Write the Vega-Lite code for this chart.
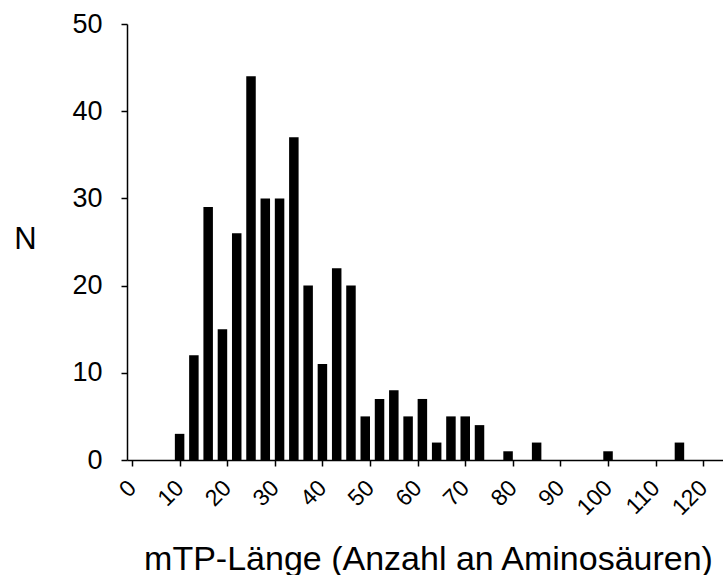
{
  "$schema": "https://vega.github.io/schema/vega-lite/v6.json",
  "autosize": {"type": "none"},
  "width": 596,
  "height": 436,
  "padding": {"left": 127, "top": 24, "right": 0, "bottom": 115},
  "background": "white",
  "config": {
    "view": {"stroke": null},
    "font": "Liberation Sans",
    "axis": {"grid": false, "domainColor": "#000", "tickColor": "#000", "labelColor": "#000", "titleColor": "#000", "labelFont": "Liberation Sans", "titleFont": "Liberation Sans", "titleFontWeight": "normal", "domainWidth": 1.5, "tickWidth": 1.5}
  },
  "data": {
    "values": [
      {"len": 10, "n": 3}, {"len": 13, "n": 12}, {"len": 16, "n": 29}, {"len": 19, "n": 15},
      {"len": 22, "n": 26}, {"len": 25, "n": 44}, {"len": 28, "n": 30}, {"len": 31, "n": 30},
      {"len": 34, "n": 37}, {"len": 37, "n": 20}, {"len": 40, "n": 11}, {"len": 43, "n": 22},
      {"len": 46, "n": 20}, {"len": 49, "n": 5}, {"len": 52, "n": 7}, {"len": 55, "n": 8},
      {"len": 58, "n": 5}, {"len": 61, "n": 7}, {"len": 64, "n": 2}, {"len": 67, "n": 5},
      {"len": 70, "n": 5}, {"len": 73, "n": 4}, {"len": 79, "n": 1}, {"len": 85, "n": 2},
      {"len": 100, "n": 1}, {"len": 115, "n": 2}
    ]
  },
  "mark": {"type": "bar", "color": "#000", "size": 9.5},
  "encoding": {
    "x": {
      "field": "len", "type": "quantitative",
      "scale": {"domain": [0, 123.1], "nice": false, "zero": true},
      "axis": {
        "values": [0, 10, 20, 30, 40, 50, 60, 70, 80, 90, 100, 110, 120],
        "title": "mTP-Länge (Anzahl an Aminosäuren)",
        "labelAngle": -45, "labelAlign": "right", "labelBaseline": "middle",
        "labelFontSize": 23, "labelPadding": 18, "tickSize": 6,
        "labelOverlap": false, "labelFlush": false, "labelBound": false,
        "titleFontSize": 34, "titleAnchor": "start", "titleAlign": "center", "titleBaseline": "alphabetic",
        "titleX": 301, "titleY": 109
      }
    },
    "y": {
      "field": "n", "type": "quantitative",
      "scale": {"domain": [0, 50], "nice": false},
      "axis": {
        "values": [0, 10, 20, 30, 40, 50],
        "title": "N",
        "titleAngle": 0, "titleFontSize": 31, "titleAlign": "center", "titleBaseline": "alphabetic",
        "titleX": -102, "titleY": 224,
        "labelFontSize": 27, "labelPadding": 19, "tickSize": 6, "labelFlush": false
      }
    }
  }
}
